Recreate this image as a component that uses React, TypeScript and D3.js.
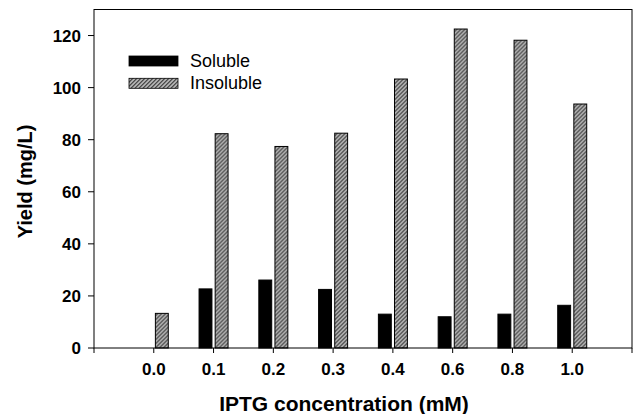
import React from 'react';
import * as d3 from 'd3';

// IPTG concentrations (mM) and yields (mg/L)
const concentrations = ['0.0', '0.1', '0.2', '0.3', '0.4', '0.6', '0.8', '1.0'];
const soluble = [0, 22.7, 26.1, 22.5, 13.0, 12.0, 13.0, 16.4];
const insoluble = [13.3, 82.3, 77.4, 82.5, 103.3, 122.5, 118.2, 93.7];
const seriesNames = ['Soluble', 'Insoluble'];
const yTicks = [0, 20, 40, 60, 80, 100, 120];

const width = 637;
const height = 414;
const margin = { top: 9.5, right: 5, bottom: 66, left: 94 };

const App = () => {
  const plotW = width - margin.left - margin.right;
  const plotH = height - margin.top - margin.bottom;
  const font = '"Liberation Sans", Arial, Helvetica, sans-serif';

  // categories sit at 1..n on a slot axis with an empty slot either side
  const xScale = d3
    .scaleLinear()
    .domain([0, concentrations.length + 1])
    .range([0, plotW]);

  const inner = d3
    .scaleBand()
    .domain(seriesNames)
    .range([-14.5, 14.5])
    .paddingInner(0.2);

  const yScale = d3.scaleLinear().domain([0, 130]).range([plotH, 0]);

  const xTickSlots = d3.range(0, concentrations.length + 2);

  const rows = concentrations.map((c, i) => ({
    label: c,
    values: [soluble[i], insoluble[i]],
  }));

  const fills = ['#000', 'url(#hatch)'];

  return (
    <svg
      width={width}
      height={height}
      style={{ position: 'absolute', left: 0, top: 0, fontFamily: font }}
    >
      <defs>
        <pattern id="hatch" patternUnits="userSpaceOnUse" width={4} height={4}>
          <rect width={4} height={4} fill="#c4c4c4" />
          <path d="M-1,1 l2,-2 M0,4 l4,-4 M3,5 l2,-2" stroke="#222" strokeWidth={1.1} />
        </pattern>
      </defs>
      <rect width={width} height={height} fill="#fff" />
      <g transform={`translate(${margin.left},${margin.top})`}>
        {/* Bars */}
        {rows.map((row, i) => (
          <g key={row.label} transform={`translate(${xScale(i + 1)},0)`}>
            {row.values.map((v, j) =>
              v > 0 ? (
                <rect
                  key={seriesNames[j]}
                  x={inner(seriesNames[j])}
                  y={yScale(v)}
                  width={inner.bandwidth()}
                  height={plotH - yScale(v)}
                  fill={fills[j]}
                  stroke="#000"
                  strokeWidth={1}
                />
              ) : null
            )}
          </g>
        ))}

        {/* Frame */}
        <rect x={0} y={0} width={plotW} height={plotH} fill="none" stroke="#000" strokeWidth={1} />

        {/* Y axis */}
        {yTicks.map((t) => (
          <g key={t} transform={`translate(0,${yScale(t)})`}>
            <line x1={-6} x2={0} stroke="#000" />
            <text
              x={-13}
              dy="0.36em"
              textAnchor="end"
              fontSize={17}
              fontWeight="bold"
            >
              {t}
            </text>
          </g>
        ))}

        {/* X axis */}
        {xTickSlots.map((s) => (
          <line key={s} x1={xScale(s)} x2={xScale(s)} y1={plotH} y2={plotH + 5} stroke="#000" />
        ))}
        {concentrations.map((c, i) => (
          <text
            key={c}
            x={xScale(i + 1)}
            y={plotH + 27}
            textAnchor="middle"
            fontSize={17}
            fontWeight="bold"
          >
            {c}
          </text>
        ))}

        {/* Legend */}
        {seriesNames.map((name, j) => (
          <g key={name} transform={`translate(35,${46.5 + j * 22.3})`}>
            <rect width={49} height={10} fill={fills[j]} stroke="#000" strokeWidth={0.8} />
            <text x={61} y={11} fontSize={18}>
              {name}
            </text>
          </g>
        ))}
      </g>

      {/* Axis titles */}
      <text
        x={margin.left + plotW / 2 - 19}
        y={411}
        textAnchor="middle"
        fontSize={21}
        fontWeight="bold"
      >
        IPTG concentration (mM)
      </text>
      <text
        transform={`translate(32,181.5) rotate(-90)`}
        textAnchor="middle"
        fontSize={20}
        fontWeight="bold"
      >
        Yield (mg/L)
      </text>
    </svg>
  );
};

export default App;
